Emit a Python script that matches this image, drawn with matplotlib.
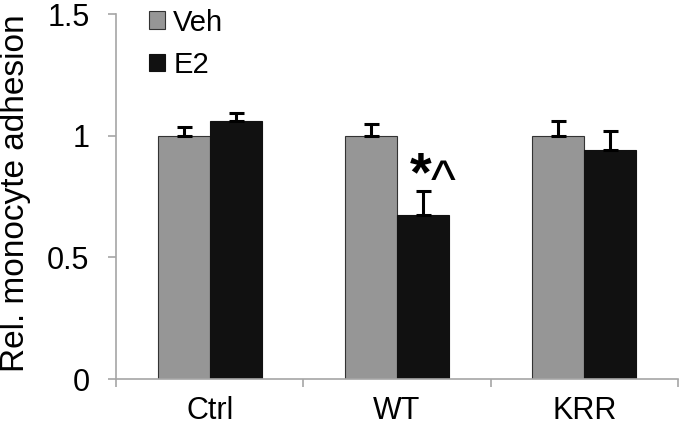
import matplotlib
matplotlib.use("Agg")
import matplotlib.pyplot as plt
import numpy as np

plt.rcParams["font.family"] = ["Liberation Sans", "DejaVu Sans"]

groups = ["Ctrl", "WT", "KRR"]
veh_mean = [1.0, 1.0, 1.0]
veh_err = [0.037, 0.046, 0.06]
e2_mean = [1.06, 0.675, 0.942]
e2_err = [0.035, 0.097, 0.077]
yticks = [0, 0.5, 1, 1.5]
ytick_labels = ["0", "0.5", "1", "1.5"]

axis_grey = "#a6a6a6"
x = np.arange(len(groups))
width = 0.278

fig = plt.figure(figsize=(6.8, 4.3), dpi=100)
ax = fig.add_axes([0.1706, 0.1186, 0.8264, 0.8488])

err_style = dict(elinewidth=2.2, capthick=2.2, ecolor="black")
ax.bar(x - width / 2, veh_mean, width, color="#969696", edgecolor="#333333",
       linewidth=0.8, label="Veh",
       yerr=[np.zeros(3), veh_err], capsize=5.4, error_kw=err_style)
ax.bar(x + width / 2, e2_mean, width, color="#111111", edgecolor="#111111",
       linewidth=0.8, label="E2",
       yerr=[np.zeros(3), e2_err], capsize=5.4, error_kw=err_style)

# significance marks over WT E2
ax.text(1 + width / 2 - 0.015, 0.775, "*", ha="center", va="baseline",
        fontsize=40, fontweight="bold")
ax.text(1 + width / 2 + 0.107, 0.744, "^", ha="center", va="baseline",
        fontsize=38)

ax.set_xlim(-0.5, 2.5)
ax.set_ylim(0, 1.5)
ax.set_yticks(yticks)
ax.set_yticklabels(ytick_labels)
ax.set_xticks([-0.5, 0.5, 1.5, 2.5])
ax.set_xticklabels([])
ax.set_xticks(x, minor=True)
ax.set_xticklabels(groups, minor=True)
ax.tick_params(axis="x", which="minor", length=0, labelsize=22, pad=12)
ax.tick_params(axis="x", which="major", length=6, color=axis_grey, width=1.2)
ax.tick_params(axis="y", length=6, color=axis_grey, width=1.2, labelsize=22,
               pad=13)

for side in ["top", "right"]:
    ax.spines[side].set_visible(False)
for side in ["left", "bottom"]:
    ax.spines[side].set_color(axis_grey)
    ax.spines[side].set_linewidth(1.2)

ax.set_ylabel("Rel. monocyte adhesion", fontsize=24)
ax.yaxis.set_label_coords(-0.152, 0.51)

ax.legend(loc="upper left", bbox_to_anchor=(0.0587, 1.015), frameon=False,
          fontsize=21, handlelength=0.55, handleheight=0.55, handletextpad=0.28,
          labelspacing=0.49, borderpad=0, borderaxespad=0)

fig.savefig("out.png", dpi=100)
